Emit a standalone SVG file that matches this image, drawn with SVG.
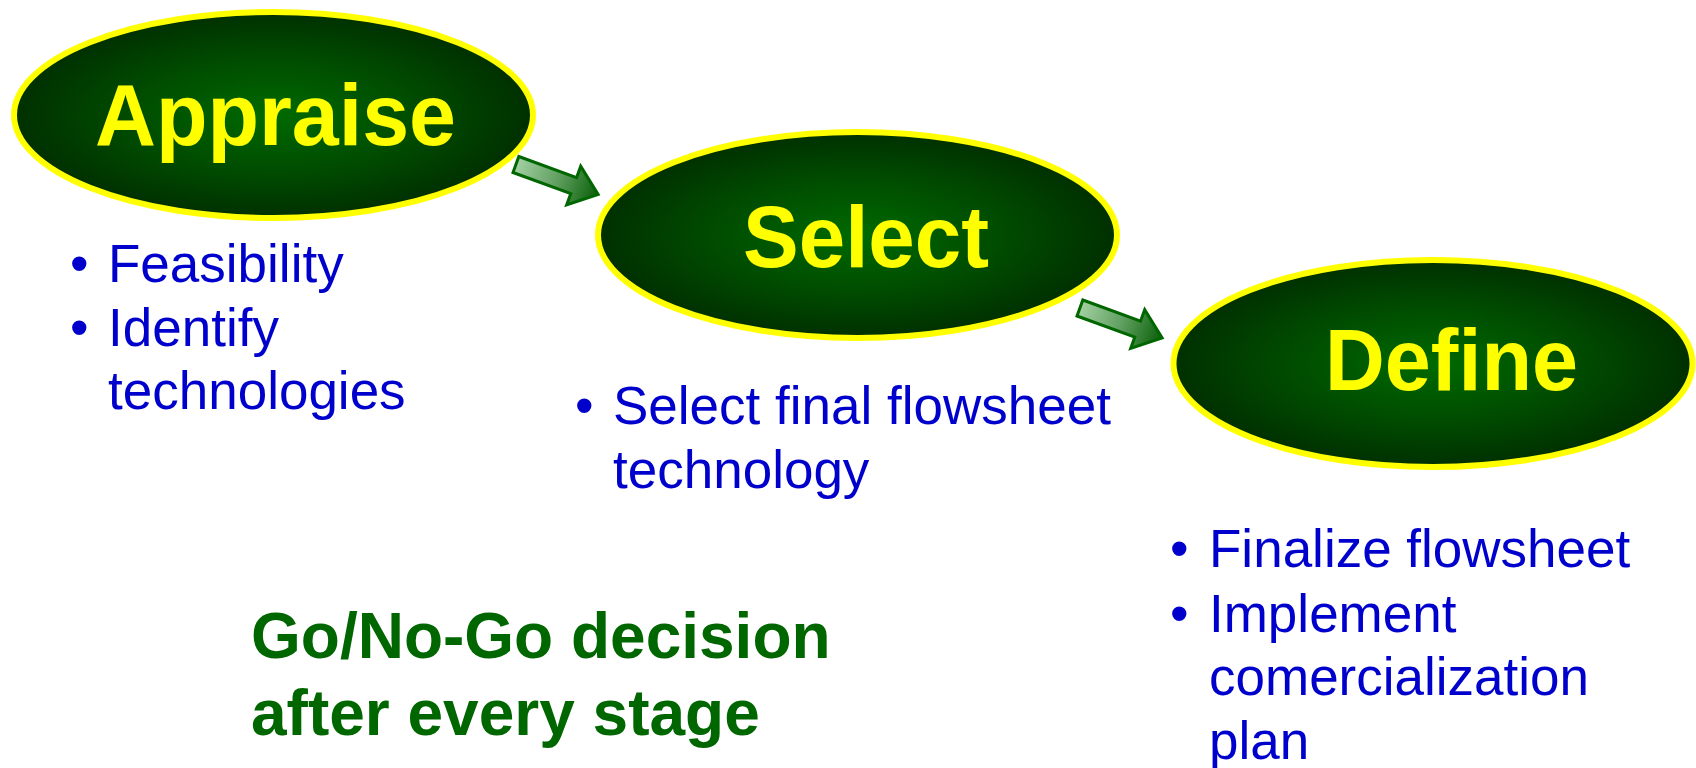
<svg xmlns="http://www.w3.org/2000/svg" width="1696" height="768" viewBox="0 0 1696 768">
<defs>
<radialGradient id="gEll" cx="0.5" cy="0.5" r="0.5">
<stop offset="0" stop-color="#006a00"/>
<stop offset="0.55" stop-color="#004c00"/>
<stop offset="1" stop-color="#003000"/>
</radialGradient>
<linearGradient id="gArr" x1="0" y1="0" x2="1" y2="0">
<stop offset="0" stop-color="#a2d0a2"/>
<stop offset="0.5" stop-color="#62a062"/>
<stop offset="0.8" stop-color="#2c7a2c"/>
<stop offset="1" stop-color="#0d5e0d"/>
</linearGradient>
<path id="arrowShape" d="M1.5,-8.5 L63,-8.5 L63,-20.5 L89,0 L63,20.5 L63,8.5 L1.5,8.5 Z"/>
</defs>
<style>
.ell{fill:url(#gEll);stroke:#ffff00;stroke-width:6}
.title{font-family:"Liberation Sans",Arial,sans-serif;font-weight:bold;font-size:87px;fill:#ffff00}
.bul{font-family:"Liberation Sans",Arial,sans-serif;font-size:53px;fill:#0000cc}
.note{font-family:"Liberation Sans",Arial,sans-serif;font-weight:bold;font-size:64px;fill:#006600}
.arr{fill:url(#gArr);stroke:#006600;stroke-width:3;stroke-linejoin:miter}
</style>
<rect width="1696" height="768" fill="#ffffff"/>
<g id="connectors">
<use href="#arrowShape" class="arr" transform="translate(514.5,164) rotate(20)"/>
<use href="#arrowShape" class="arr" transform="translate(1078.5,307.5) rotate(20)"/>
</g>
<g id="node-appraise">
<ellipse class="ell" cx="273.5" cy="115" rx="259.5" ry="103"/>
<text class="title" x="95" y="145" textLength="361" lengthAdjust="spacingAndGlyphs">Appraise</text>
</g>
<g id="node-select">
<ellipse class="ell" cx="857.5" cy="235" rx="259.5" ry="103"/>
<text class="title" x="743" y="267" textLength="246" lengthAdjust="spacingAndGlyphs">Select</text>
</g>
<g id="node-define">
<ellipse class="ell" cx="1433" cy="363.5" rx="259.5" ry="103.5"/>
<text class="title" x="1325" y="390" textLength="253" lengthAdjust="spacingAndGlyphs">Define</text>
</g>
<g id="appraise-notes" class="bul">
<text x="70" y="282">•</text>
<text x="108" y="282">Feasibility</text>
<text x="70" y="346">•</text>
<text x="108" y="346">Identify</text>
<text x="108" y="409">technologies</text>
</g>
<g id="select-notes" class="bul">
<text x="575" y="424">•</text>
<text x="613" y="424">Select final flowsheet</text>
<text x="613" y="488">technology</text>
</g>
<g id="define-notes" class="bul">
<text x="1170" y="567">•</text>
<text x="1209" y="567">Finalize flowsheet</text>
<text x="1170" y="632">•</text>
<text x="1209" y="632">Implement</text>
<text x="1209" y="695">comercialization</text>
<text x="1209" y="759">plan</text>
</g>
<g id="decision-note" class="note">
<text x="251" y="658">Go/No-Go decision</text>
<text x="251" y="735">after every stage</text>
</g>
</svg>
